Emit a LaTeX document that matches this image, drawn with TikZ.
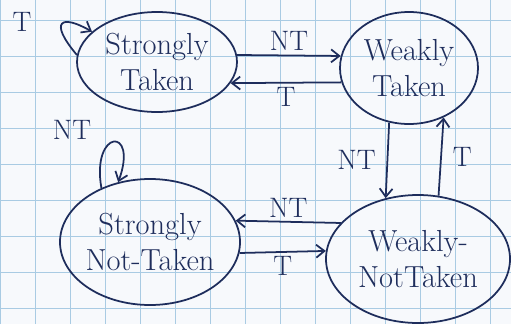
\documentclass[tikz,border=0pt]{standalone}
\usepackage{tikz}
\usepackage{xcolor}
\usetikzlibrary{shapes.geometric,arrows.meta}
\definecolor{inkcolorb}{HTML}{1E2D5C}
\definecolor{gridcolorb}{HTML}{A9CBE3}
\definecolor{papercolorb}{HTML}{F7F9FC}
\colorlet{inkcolor}{inkcolorb}
\colorlet{gridcolor}{gridcolorb}
\tikzstyle{statebox} = [
    draw=inkcolor,
    ellipse,
    line width=1.5pt,
    text=inkcolor,
    align=center,
    inner sep=-2pt,
    font=\fontsize{26}{30}\selectfont
    ]
\tikzstyle{trans} = [
    draw=inkcolor,
    line width=1.5pt,
    -{Straight Barb[length=7pt,width=11pt]}
    ]
\tikzstyle{translabel} = [
    text=inkcolor,
    font=\fontsize{24}{28}\selectfont
    ]

\begin{document}
\begin{tikzpicture}[x=0.03cm,y=0.03cm]
\useasboundingbox[fill=papercolorb] (0,0) rectangle (511,324);
% grid paper
\foreach \gx in {0,35,...,510}
    \draw[gridcolor, line width=0.8pt] (\gx,0) -- (\gx,324);
\foreach \gy in {16,52,...,324}
    \draw[gridcolor, line width=0.8pt] (0,\gy) -- (511,\gy);

\node[statebox, minimum width=4.8cm, minimum height=3cm] (st) at (157,262) {Strongly\\Taken};
\node[statebox, minimum width=4.14cm, minimum height=3.36cm] (wt) at (409,256) {Weakly\\Taken};
\node[statebox, minimum width=5.4cm, minimum height=3.78cm] (snt) at (150,82) {Strongly\\Not-Taken};
\node[statebox, minimum width=5.52cm, minimum height=3.84cm] (wnt) at (418,65) {Weakly-\\NotTaken};

\draw[trans] (st.5) -- node[translabel, above] {NT} (wt.170);
\draw[trans] (wt.192) -- node[translabel, below] {T} (st.-16);
\draw[trans] (wt.250) -- node[translabel, left=6pt] {NT} (wnt.118);
\draw[trans] (wnt.72) -- node[translabel, right=6pt] {T} (wt.-55);
\draw[trans] (wnt.155) -- node[translabel, above] {NT} (snt.14);
\draw[trans] (snt.-7) -- node[translabel, below] {T} (wnt.175);

% self loops
\draw[trans] (st.175) .. controls +(130:45) and +(150:35) .. (st.155);
\node[translabel] (stloop) at (22,302) {T};
\draw[trans] (snt.132) .. controls +(100:60) and +(70:60) .. (snt.118);
\node[translabel] (sntloop) at (72,194) {NT};
\end{tikzpicture}
\end{document}
